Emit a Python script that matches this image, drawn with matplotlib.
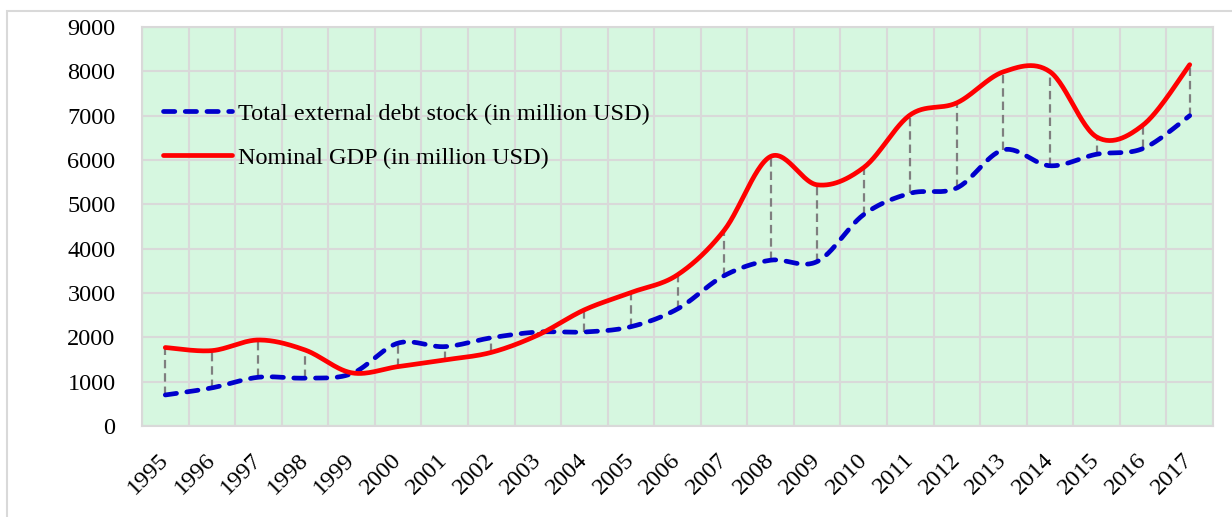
import numpy as np
import matplotlib
matplotlib.use('Agg')
from matplotlib import pyplot as plt
from matplotlib.patches import Rectangle

# data (million USD)
years = list(range(1995, 2018))
debt = [700, 860, 1100, 1080, 1180, 1870, 1790, 1990, 2120, 2120, 2240, 2640,
        3390, 3740, 3710, 4770, 5250, 5370, 6230, 5870, 6130, 6260, 7000]
gdp = [1770, 1700, 1940, 1715, 1200, 1340, 1490, 1660, 2050, 2620, 3010, 3410,
       4410, 6080, 5440, 5830, 7020, 7290, 7990, 7990, 6520, 6790, 8150]

debtLabel = 'Total external debt stock (in million USD)'
gdpLabel = 'Nominal GDP (in million USD)'


def smooth(y, n=30):
    # Catmull-Rom style bezier through the points (like a smoothed spreadsheet line)
    y = np.asarray(y, dtype=float)
    x = np.arange(len(y), dtype=float)
    px = np.concatenate([[x[0]], x, [x[-1]]])
    py = np.concatenate([[y[0]], y, [y[-1]]])
    t = np.linspace(0, 1, n)
    xs, ys = [], []
    for i in range(1, len(px) - 2):
        p0 = np.array([px[i], py[i]])
        p3 = np.array([px[i+1], py[i+1]])
        p1 = p0 + (np.array([px[i+1], py[i+1]]) - np.array([px[i-1], py[i-1]])) / 6.
        p2 = p3 - (np.array([px[i+2], py[i+2]]) - np.array([px[i], py[i]])) / 6.
        b = (np.outer((1-t)**3, p0) + np.outer(3*(1-t)**2*t, p1)
             + np.outer(3*(1-t)*t**2, p2) + np.outer(t**3, p3))
        xs.append(b[:, 0])
        ys.append(b[:, 1])
    return np.concatenate(xs), np.concatenate(ys)


plt.rcParams['font.family'] = ['Liberation Serif', 'DejaVu Serif']
plt.rcParams['font.size'] = 17.5

fig = plt.figure(figsize=(12.32, 5.17), dpi=100)
ax = fig.add_axes([142/1232., 1-426/517., 1071/1232., 399/517.])
ax.set_facecolor('#D6F7E0')

# outer chart border
fig.patches.append(Rectangle((7/1232., -0.2), 1.2, 1-11/517.+0.2,
                             transform=fig.transFigure, fill=False,
                             edgecolor='#d9d9d9', linewidth=1.5))

x = np.arange(len(years))

# drop lines between the two series
lo = np.minimum(debt, gdp)
hi = np.maximum(debt, gdp)
ax.vlines(x, lo, hi, colors='#7f7f7f', linestyles=(0, (3.8, 2.2)),
          linewidth=1.6, zorder=2)

sx, sy = smooth(debt)
ax.plot(sx, sy, color='#0000CC', linewidth=3.4, linestyle=(0, (2.4, 2.2)),
        dash_capstyle='round', label=debtLabel, zorder=3)
sx, sy = smooth(gdp)
ax.plot(sx, sy, color='#FF0000', linewidth=3.4, solid_capstyle='round',
        label=gdpLabel, zorder=4)

ax.set_xlim(-0.5, len(years) - 0.5)
ax.set_ylim(0, 9000)
ax.set_yticks(np.arange(0, 9001, 1000))
ax.set_xticks(x)
ax.set_xticks(np.arange(-0.5, len(years), 1.0), minor=True)
ax.set_xticklabels([str(y) for y in years], rotation=45, ha='right',
                   va='center', rotation_mode='anchor')
ax.tick_params(axis='x', which='both', length=0, pad=22)
ax.tick_params(axis='y', length=0, pad=19)
ax.grid(axis='y', color='#d9d9d9', linewidth=1.5, zorder=0)
ax.grid(axis='x', which='minor', color='#d9d9d9', linewidth=1.5, zorder=0)
ax.set_axisbelow(True)
for s in ax.spines.values():
    s.set_color('#d9d9d9')
    s.set_linewidth(1.5)

ax.legend(loc='upper left', bbox_to_anchor=(0.0196, 0.81), frameon=False,
          borderpad=0, borderaxespad=0, handlelength=2.85, handletextpad=0.25,
          labelspacing=0.9, fontsize=17.5)

fig.savefig('out.png', dpi=100)
